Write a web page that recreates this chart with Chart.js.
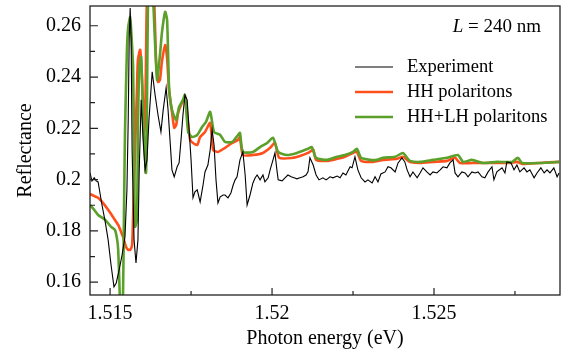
<!DOCTYPE html>
<html>
<head>
<meta charset="utf-8">
<script src="https://cdn.jsdelivr.net/npm/chart.js@4"></script>
<style>
  html, body { margin: 0; padding: 0; background: #fff; }
  #wrap { width: 567px; height: 354px; }
</style>
</head>
<body>
<div id="wrap"><canvas id="c" width="567" height="354"></canvas></div>
<script>
// ---- Data ----
const expEnergy = [1.51438,1.51444,1.51451,1.51457,1.51463,1.51475,1.51485,1.51494,1.51503,1.51512,1.51519,1.51528,1.51537,1.51546,1.51552,1.51556,1.51559,1.51562,1.51565,1.51568,1.51574,1.51580,1.51586,1.51590,1.51596,1.51602,1.51608,1.51614,1.51620,1.51630,1.51639,1.51648,1.51657,1.51664,1.51673,1.51679,1.51685,1.51691,1.51698,1.51707,1.51713,1.51719,1.51725,1.51731,1.51738,1.51744,1.51750,1.51756,1.51762,1.51769,1.51778,1.51787,1.51793,1.51802,1.51809,1.51815,1.51821,1.51827,1.51833,1.51840,1.51849,1.51855,1.51864,1.51873,1.51880,1.51886,1.51892,1.51901,1.51910,1.51917,1.51923,1.51932,1.51941,1.51948,1.51954,1.51963,1.51972,1.51978,1.51988,1.51994,1.52003,1.52009,1.52015,1.52019,1.52031,1.52040,1.52049,1.52059,1.52068,1.52077,1.52086,1.52096,1.52105,1.52111,1.52117,1.52127,1.52136,1.52145,1.52157,1.52167,1.52179,1.52188,1.52201,1.52210,1.52219,1.52228,1.52241,1.52247,1.52256,1.52265,1.52275,1.52287,1.52296,1.52309,1.52318,1.52327,1.52336,1.52349,1.52358,1.52367,1.52380,1.52389,1.52401,1.52410,1.52417,1.52426,1.52435,1.52448,1.52457,1.52466,1.52478,1.52488,1.52497,1.52509,1.52519,1.52528,1.52540,1.52549,1.52559,1.52565,1.52574,1.52586,1.52596,1.52605,1.52617,1.52627,1.52636,1.52648,1.52657,1.52667,1.52679,1.52685,1.52694,1.52710,1.52719,1.52725,1.52738,1.52747,1.52756,1.52765,1.52778,1.52787,1.52796,1.52809,1.52818,1.52830,1.52840,1.52849,1.52858,1.52870,1.52880,1.52886];
const expRefl = [0.2026,0.1995,0.2007,0.1995,0.1991,0.1901,0.1835,0.1765,0.1667,0.1582,0.1597,0.1648,0.1706,0.1777,0.1960,0.2233,0.2545,0.2669,0.2545,0.2116,0.1765,0.1675,0.1765,0.2038,0.2311,0.2155,0.2038,0.2077,0.2233,0.2420,0.2330,0.2252,0.2186,0.2272,0.2358,0.2272,0.2155,0.2038,0.2011,0.2050,0.2065,0.2155,0.2252,0.2330,0.2311,0.2194,0.2077,0.1929,0.1952,0.1960,0.1913,0.1979,0.2030,0.2057,0.2116,0.2194,0.2135,0.1999,0.1909,0.1933,0.1940,0.1940,0.1929,0.1948,0.1979,0.1999,0.2011,0.2077,0.2108,0.2018,0.1901,0.1940,0.1987,0.2007,0.2018,0.1999,0.2018,0.1991,0.2007,0.2038,0.2077,0.2104,0.2038,0.1999,0.1995,0.2007,0.2018,0.2011,0.2007,0.2003,0.2007,0.2011,0.2018,0.2030,0.2085,0.2057,0.2018,0.1999,0.2007,0.1999,0.2011,0.2007,0.2014,0.2007,0.2026,0.2018,0.2050,0.2046,0.2089,0.2038,0.2007,0.1991,0.1999,0.1987,0.2011,0.1991,0.2022,0.2030,0.2050,0.2046,0.2030,0.2065,0.2085,0.2069,0.2038,0.2011,0.2030,0.2007,0.2026,0.2046,0.2030,0.2018,0.2030,0.2026,0.2038,0.2050,0.2046,0.2065,0.2077,0.2026,0.2011,0.2030,0.2026,0.2011,0.2030,0.2026,0.2030,0.2011,0.2007,0.2030,0.2050,0.1999,0.2030,0.2046,0.2026,0.2069,0.2065,0.2038,0.2057,0.2030,0.2046,0.2030,0.2038,0.2007,0.2026,0.2046,0.2026,0.2038,0.2026,0.2046,0.2011,0.2026];

const hhEnergy = [1.51438,1.51451,1.51463,1.51478,1.51494,1.51509,1.51525,1.51534,1.51540,1.51549,1.51556,1.51562,1.51568,1.51571,1.51577,1.51583,1.51586,1.51593,1.51599,1.51605,1.51608,1.51611,1.51614,1.51627,1.51636,1.51642,1.51648,1.51654,1.51660,1.51670,1.51676,1.51682,1.51691,1.51698,1.51704,1.51710,1.51719,1.51731,1.51738,1.51747,1.51756,1.51769,1.51778,1.51793,1.51809,1.51818,1.51833,1.51855,1.51877,1.51895,1.51901,1.51910,1.51941,1.51972,1.51994,1.52009,1.52022,1.52065,1.52086,1.52111,1.52127,1.52136,1.52170,1.52201,1.52225,1.52250,1.52262,1.52275,1.52312,1.52343,1.52386,1.52404,1.52417,1.52426,1.52457,1.52497,1.52540,1.52565,1.52580,1.52633,1.52682,1.52735,1.52756,1.52772,1.52827,1.52886];
const hhRefl = [0.1944,0.1936,0.1929,0.1909,0.1882,0.1854,0.1823,0.1796,0.1777,0.1738,0.1726,0.1726,0.1745,0.1854,0.2116,0.2350,0.2467,0.2506,0.2377,0.2182,0.2233,0.2467,0.2701,0.2850,0.2701,0.2467,0.2381,0.2389,0.2459,0.2525,0.2474,0.2350,0.2264,0.2202,0.2213,0.2260,0.2291,0.2319,0.2252,0.2155,0.2143,0.2135,0.2166,0.2186,0.2221,0.2116,0.2108,0.2124,0.2143,0.2155,0.2166,0.2096,0.2096,0.2104,0.2124,0.2143,0.2085,0.2085,0.2092,0.2104,0.2116,0.2077,0.2073,0.2081,0.2089,0.2104,0.2108,0.2073,0.2069,0.2077,0.2081,0.2089,0.2077,0.2069,0.2065,0.2069,0.2073,0.2085,0.2065,0.2065,0.2065,0.2065,0.2069,0.2061,0.2065,0.2069];

const hhlhEnergy = [1.51438,1.51451,1.51463,1.51485,1.51503,1.51515,1.51522,1.51525,1.51528,1.51531,1.51537,1.51540,1.51543,1.51546,1.51552,1.51556,1.51562,1.51565,1.51571,1.51574,1.51577,1.51583,1.51586,1.51590,1.51596,1.51602,1.51611,1.51614,1.51617,1.51623,1.51633,1.51645,1.51654,1.51660,1.51670,1.51676,1.51682,1.51688,1.51694,1.51704,1.51713,1.51725,1.51731,1.51741,1.51753,1.51769,1.51784,1.51796,1.51809,1.51821,1.51840,1.51855,1.51877,1.51895,1.51901,1.51910,1.51941,1.51963,1.51985,1.52003,1.52019,1.52046,1.52077,1.52111,1.52123,1.52136,1.52170,1.52201,1.52225,1.52250,1.52262,1.52275,1.52302,1.52324,1.52343,1.52380,1.52404,1.52417,1.52426,1.52457,1.52497,1.52540,1.52574,1.52590,1.52617,1.52651,1.52694,1.52741,1.52759,1.52772,1.52827,1.52886];
const hhlhRefl = [0.1901,0.1882,0.1862,0.1843,0.1816,0.1804,0.1765,0.1726,0.1628,0.1531,0.1531,0.1558,0.1882,0.2182,0.2506,0.2595,0.2634,0.2584,0.2439,0.2116,0.1816,0.1843,0.2194,0.2439,0.2478,0.2244,0.2026,0.2311,0.2701,0.2900,0.2701,0.2389,0.2486,0.2572,0.2654,0.2623,0.2361,0.2291,0.2260,0.2233,0.2283,0.2311,0.2330,0.2186,0.2166,0.2174,0.2205,0.2225,0.2264,0.2186,0.2174,0.2147,0.2147,0.2174,0.2182,0.2108,0.2108,0.2127,0.2143,0.2163,0.2108,0.2096,0.2104,0.2120,0.2127,0.2085,0.2077,0.2089,0.2096,0.2108,0.2120,0.2085,0.2077,0.2077,0.2085,0.2089,0.2104,0.2085,0.2073,0.2069,0.2077,0.2085,0.2096,0.2069,0.2077,0.2065,0.2069,0.2069,0.2085,0.2065,0.2065,0.2069];

const seriesNames = ['Experiment', 'HH polaritons', 'HH+LH polaritons'];
const seriesColors = ['#000000', '#ff4f1a', '#5ba02a'];
const xMajorTicks = [1.515, 1.52, 1.525];
const xMinorTicks = [1.5175, 1.5225, 1.5275];
const yMajorTicks = [0.16, 0.18, 0.2, 0.22, 0.24, 0.26];
const yMinorTicks = [0.17, 0.19, 0.21, 0.23, 0.25];
const xRange = [1.51438, 1.52889];
const yRange = [0.155, 0.2677];
const annotationText = ['L', ' = 240 nm'];

const toPts = (xs, ys) => xs.map((x, i) => ({x: x, y: ys[i]}));

const SERIF = '"Liberation Serif", "Times New Roman", serif';

const decorPlugin = {
  id: 'decor',
  afterDatasetsDraw(chart) {
    const {ctx, chartArea: a, scales: {x, y}} = chart;
    ctx.save();
    ctx.strokeStyle = '#222';
    ctx.lineWidth = 1.3;
    ctx.strokeRect(a.left, a.top, a.right - a.left, a.bottom - a.top);
    ctx.lineWidth = 1.2;
    ctx.beginPath();
    const tick = (arr, len, horiz) => arr.forEach(v => {
      if (horiz) {
        const px = x.getPixelForValue(v);
        ctx.moveTo(px, a.bottom); ctx.lineTo(px, a.bottom - len);
      } else {
        const py = y.getPixelForValue(v);
        ctx.moveTo(a.left, py); ctx.lineTo(a.left + len, py);
      }
    });
    tick(xMajorTicks, 7, true);
    tick(xMinorTicks, 4, true);
    tick(yMajorTicks, 8, false);
    tick(yMinorTicks, 5, false);
    ctx.stroke();

    // legend
    ctx.font = '18.5px ' + SERIF;
    ctx.textBaseline = 'middle';
    ctx.textAlign = 'left';
    const rows = [67, 92, 117];
    seriesNames.forEach((n, i) => {
      ctx.strokeStyle = seriesColors[i];
      ctx.lineWidth = i === 0 ? 1.2 : 2.5;
      ctx.beginPath();
      ctx.moveTo(355, rows[i]); ctx.lineTo(393, rows[i]);
      ctx.stroke();
      ctx.fillStyle = '#000';
      ctx.fillText(n, 407, rows[i]);
    });
    // annotation
    ctx.font = 'italic 19px ' + SERIF;
    const wL = ctx.measureText(annotationText[0]).width;
    ctx.font = '19px ' + SERIF;
    const wR = ctx.measureText(annotationText[1]).width;
    const xEnd = 541;
    const xs = xEnd - wL - wR;
    ctx.font = 'italic 19px ' + SERIF;
    ctx.fillText(annotationText[0], xs, 27);
    ctx.font = '19px ' + SERIF;
    ctx.fillText(annotationText[1], xs + wL, 27);
    ctx.restore();
  }
};

const fmt = v => String(Math.round(v * 10000) / 10000);

new Chart(document.getElementById('c'), {
  type: 'line',
  data: {
    datasets: [
      { label: seriesNames[0], data: toPts(expEnergy, expRefl), borderColor: seriesColors[0], borderWidth: 1.1, pointRadius: 0, tension: 0, order: 0 },
      { label: seriesNames[1], data: toPts(hhEnergy, hhRefl), borderColor: seriesColors[1], borderWidth: 2.6, pointRadius: 0, tension: 0.2, order: 2 },
      { label: seriesNames[2], data: toPts(hhlhEnergy, hhlhRefl), borderColor: seriesColors[2], borderWidth: 2.6, pointRadius: 0, tension: 0.2, order: 1 }
    ]
  },
  options: {
    responsive: false,
    animation: false,
    events: [],
    layout: { padding: { left: 0, right: 7, top: 6, bottom: 0 } },
    plugins: { legend: { display: false }, tooltip: { enabled: false } },
    scales: {
      x: {
        type: 'linear',
        min: xRange[0], max: xRange[1],
        afterFit: s => { s.height = 59; s.paddingLeft = 0; s.paddingRight = 0; },
        afterBuildTicks: s => { s.ticks = xMajorTicks.map(v => ({value: v})); },
        grid: { display: false, drawTicks: false },
        border: { display: false },
        ticks: { padding: 7, color: '#000', font: { family: SERIF, size: 20 }, maxRotation: 0, autoSkip: false, callback: v => fmt(v) },
        title: { display: true, text: 'Photon energy (eV)', color: '#000', font: { family: SERIF, size: 20, lineHeight: 1.2 }, padding: { top: 0, bottom: 3 } }
      },
      y: {
        type: 'linear',
        min: yRange[0], max: yRange[1],
        afterFit: s => { s.width = 90; s.paddingTop = 0; s.paddingBottom = 0; },
        afterBuildTicks: s => { s.ticks = yMajorTicks.map(v => ({value: v})); },
        grid: { display: false, drawTicks: false },
        border: { display: false },
        ticks: { padding: 9, color: '#000', font: { family: SERIF, size: 20 }, autoSkip: false, callback: v => fmt(v) },
        title: { display: true, text: 'Reflectance', color: '#000', font: { family: SERIF, size: 20, lineHeight: 1.2 }, padding: { top: 14, bottom: 0 } }
      }
    }
  },
  plugins: [decorPlugin]
});
</script>
</body>
</html>
